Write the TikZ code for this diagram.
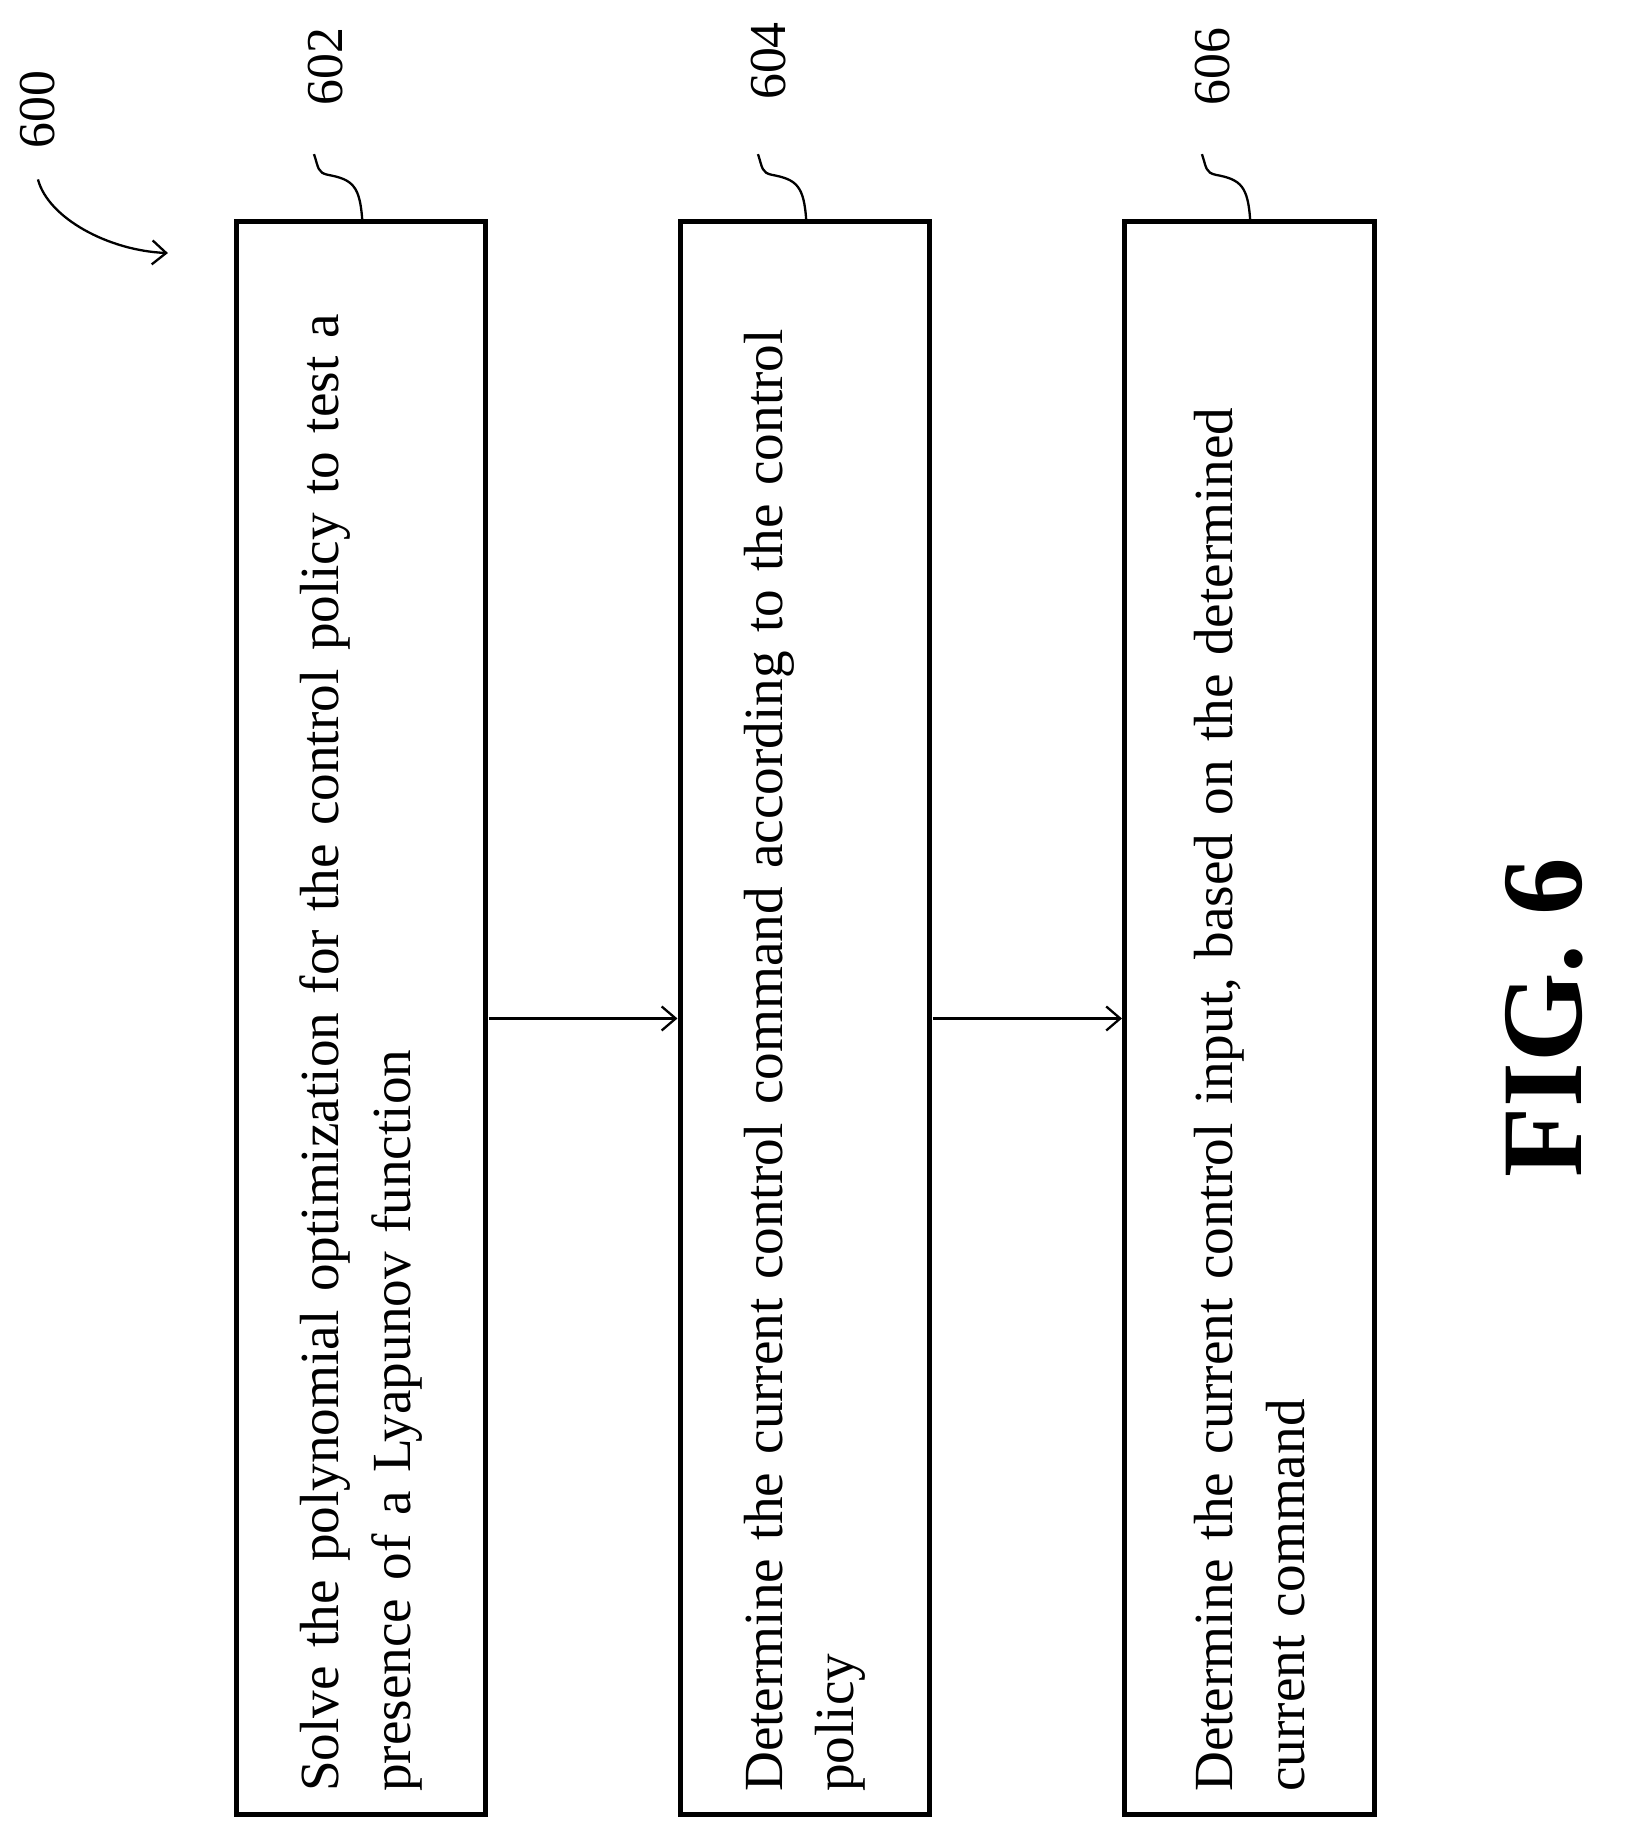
\documentclass[tikz,border=0pt]{standalone}
\usepackage{fontspec}
\setmainfont{Liberation Serif}
\usetikzlibrary{arrows.meta}
\begin{document}
\begin{tikzpicture}[x=1pt,y=-1pt,
  box/.style={draw,line width=5pt,rotate=90,minimum width=1385pt,minimum height=217pt,text width=1345pt,inner sep=10pt,align=left,font=\fontsize{48}{62}\selectfont},
  conn/.style={line width=2.3pt,-{Straight Barb[length=14pt,width=24pt,line width=2.3pt]}},
  hook/.style={line width=2.3pt},
  lbl/.style={rotate=90,font=\fontsize{45}{50}\selectfont}]
\useasboundingbox (0,0) rectangle (1628,1827);
\begin{scope}[scale=1.15,transform shape]
\node[box] (b1) at (314,885.5) {Solve the polynomial optimization for the control policy to test a\\ presence of a Lyapunov function};
\node[box] (b2) at (700,885.5) {Determine the current control command according to the control\\ policy};
\node[box] (b3) at (1086.5,885.5) {Determine the current control input, based on the determined\\ current command};
\draw[conn] (b1.south) -- (b2.north);
\draw[conn] (b2.south) -- (b3.north);
\node[lbl] (l602) at (283,58) {602};
\node[lbl] (l604) at (668,53) {604};
\node[lbl] (l606) at (1054,58) {606};
\node[lbl] (l600) at (33,95) {600};
\coordinate (t1) at (315,192);
\coordinate (t2) at (701,192);
\coordinate (t3) at (1087,192);
\foreach \t in {t1,t2,t3}{
  \draw[hook] (\t) .. controls ++(-2,-30) and ++(22,4) .. ++(-30,-40) .. controls ++(-9,-2) and ++(4,12) .. ++(-12,-18);
}
\coordinate (a0) at (33,156);
\coordinate (a1) at (146,220);
\draw[conn] (a0) .. controls (42,190) and (95,218) .. (a1);
\node[rotate=90,font=\fontsize{100}{110}\selectfont\bfseries] (fig) at (1343,885) {FIG. 6};
\end{scope}
\end{tikzpicture}
\end{document}
